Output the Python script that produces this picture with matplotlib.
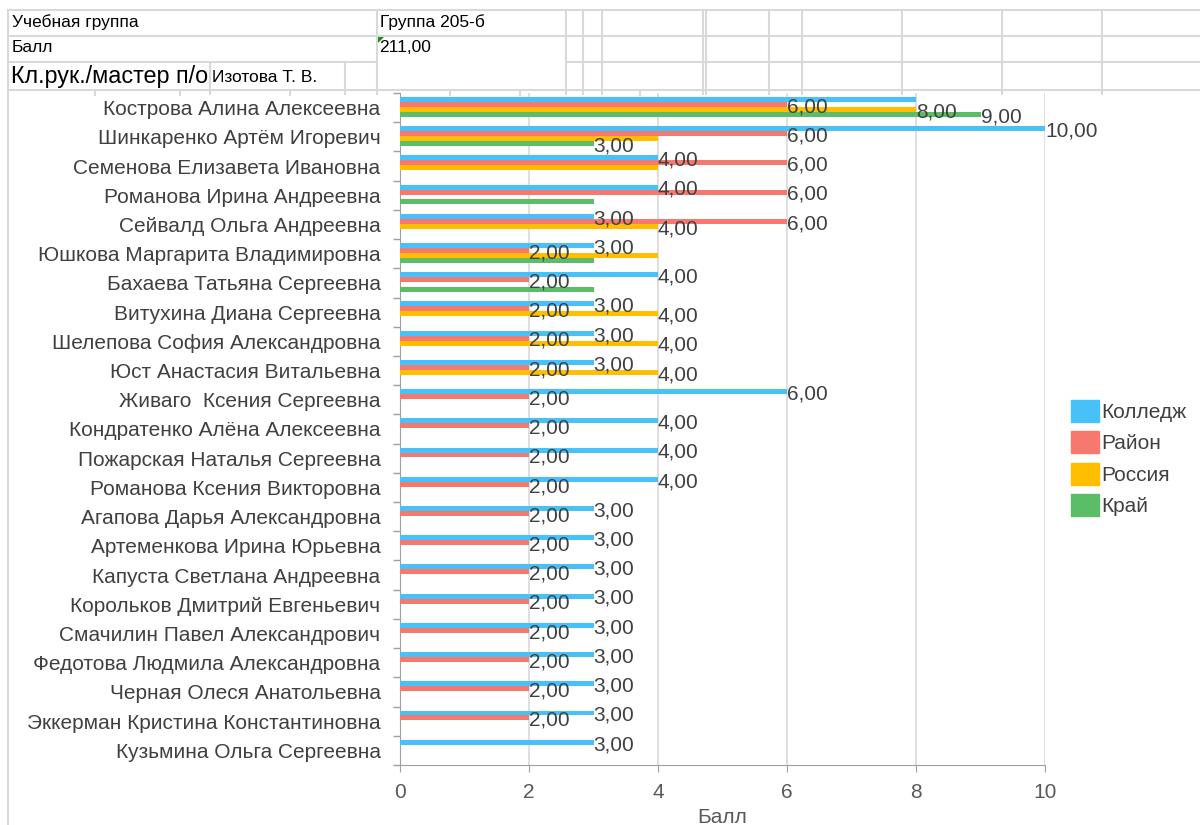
import numpy as np
import matplotlib.pyplot as plt
from matplotlib.lines import Line2D
from matplotlib.patches import Polygon, Patch

plt.rcParams['font.family'] = ['Liberation Sans', 'DejaVu Sans']

# students, top to bottom
names = ['Кострова Алина Алексеевна', 'Шинкаренко Артём Игоревич',
         'Семенова Елизавета Ивановна', 'Романова Ирина Андреевна',
         'Сейвалд Ольга Андреевна', 'Юшкова Маргарита Владимировна',
         'Бахаева Татьяна Сергеевна', 'Витухина Диана Сергеевна',
         'Шелепова София Александровна', 'Юст Анастасия Витальевна',
         'Живаго  Ксения Сергеевна', 'Кондратенко Алёна Алексеевна',
         'Пожарская Наталья Сергеевна', 'Романова Ксения Викторовна',
         'Агапова Дарья Александровна', 'Артеменкова Ирина Юрьевна',
         'Капуста Светлана Андреевна', 'Корольков Дмитрий Евгеньевич',
         'Смачилин Павел Александрович', 'Федотова Людмила Александровна',
         'Черная Олеся Анатольевна', 'Эккерман Кристина Константиновна',
         'Кузьмина Ольга Сергеевна']

series = ['Колледж', 'Район', 'Россия', 'Край']
colors = ['#47c1f7', '#f7786e', '#ffbf00', '#5cbd68']

# 0 = no bar
kolledzh = [8, 10, 4, 4, 3, 3, 4, 3, 3, 3, 6, 4, 4, 4, 3, 3, 3, 3, 3, 3, 3, 3, 3]
rayon    = [6, 6, 6, 6, 6, 2, 2, 2, 2, 2, 2, 2, 2, 2, 2, 2, 2, 2, 2, 2, 2, 2, 0]
rossiya  = [8, 4, 4, 0, 4, 4, 0, 4, 4, 4, 0, 0, 0, 0, 0, 0, 0, 0, 0, 0, 0, 0, 0]
kray     = [9, 3, 0, 3, 0, 3, 3, 0, 0, 0, 0, 0, 0, 0, 0, 0, 0, 0, 0, 0, 0, 0, 0]
values = [kolledzh, rayon, rossiya, kray]

# data labels that the original chart does not show (row, series)
hidden_labels = {(0, 0), (1, 2), (2, 2), (3, 3), (5, 2), (5, 3), (6, 3)}

W, H = 1200, 825
fig = plt.figure(figsize=(12, 8.25), dpi=100)

def fx(px):
    return px / W

def fy(py):
    return 1 - py / H

grid_c = '#d9d9d9'
txt_c = '#404040'

# spreadsheet header
def hline(x0, x1, y):
    fig.add_artist(Line2D([fx(x0), fx(x1)], [fy(y), fy(y)], color=grid_c, lw=1.5))

def vline(x, y0, y1):
    fig.add_artist(Line2D([fx(x), fx(x)], [fy(y0), fy(y1)], color=grid_c, lw=1.5))

hline(8, 1200, 10)
hline(8, 1200, 36)
hline(8, 377, 62)
hline(566, 1200, 62)
hline(8, 1200, 90)
vline(8, 10, 825)
for x in [377, 566, 583, 602, 703, 706, 769, 802, 902, 1002, 1102]:
    vline(x, 10, 94)
vline(210, 62, 94)
vline(345, 62, 94)
for x in [95, 180, 290, 450, 520, 640]:
    vline(x, 90, 95)

fig.text(fx(12), fy(22), 'Учебная группа', fontsize=12.5, va='center', color='black')
fig.text(fx(380), fy(22), 'Группа 205-б', fontsize=12.5, va='center', color='black')
fig.text(fx(12), fy(47), 'Балл', fontsize=12.5, va='center', color='black')
fig.text(fx(379), fy(47), '211,00', fontsize=12.5, va='center', color='black')
fig.add_artist(Polygon([[fx(377), fy(36)], [fx(384), fy(36)], [fx(377), fy(43)]],
                       closed=True, color='#1e8a1e', transform=fig.transFigure))
fig.text(fx(11), fy(76), 'Кл.рук./мастер п/о', fontsize=16.8, va='center', color='black')
fig.text(fx(212), fy(78), 'Изотова Т. В.', fontsize=12.5, va='center', color='black')

# chart
ax = fig.add_axes([fx(400), fy(765), fx(1045) - fx(400), (765 - 93) / H])
offsets = [-0.28, -0.11, 0.06, 0.23]
bar_h = 0.17
y = np.arange(len(names))

for s in range(4):
    vals = np.array(values[s], dtype=float)
    mask = vals > 0
    ax.barh(y[mask] + offsets[s], vals[mask], height=bar_h, color=colors[s],
            label=series[s], zorder=3)
    for i in np.where(mask)[0]:
        if (i, s) in hidden_labels:
            continue
        ax.text(vals[i], y[i] + offsets[s] + 0.08, f'{vals[i]:.2f}'.replace('.', ','),
                fontsize=15, color=txt_c, ha='left', va='center', zorder=4,
                clip_on=False)

ax.set_xlim(0, 10)
ax.set_ylim(len(names) - 0.5, -0.5)
ax.set_xticks([0, 2, 4, 6, 8, 10])
ax.set_yticks(y)
ax.set_yticklabels(names, fontsize=15, color=txt_c)
ax.set_yticks(np.arange(len(names) + 1) - 0.5, minor=True)
ax.tick_params(axis='y', which='major', length=0, pad=14)
ax.tick_params(axis='y', which='minor', length=5, color='#a0a0a0', width=1)
ax.tick_params(axis='x', length=5, color='#a0a0a0', labelsize=15, labelcolor='#595959', pad=8)
ax.grid(axis='x', color=grid_c, lw=1.2, zorder=0)
for side in ['top', 'right']:
    ax.spines[side].set_visible(False)
for side in ['left', 'bottom']:
    ax.spines[side].set_color('#a0a0a0')
ax.set_xlabel('Балл', fontsize=15, color='#595959', labelpad=4)

handles = [Patch(color=c) for c in colors]
fig.legend(handles, series, loc='center left', bbox_to_anchor=(fx(1061), fy(458)),
           frameon=False, fontsize=15, handlelength=1.3, handleheight=1.25,
           handletextpad=0.15, labelspacing=0.45, labelcolor=txt_c, borderpad=0)

fig.savefig('out.png', dpi=100, facecolor='white')
